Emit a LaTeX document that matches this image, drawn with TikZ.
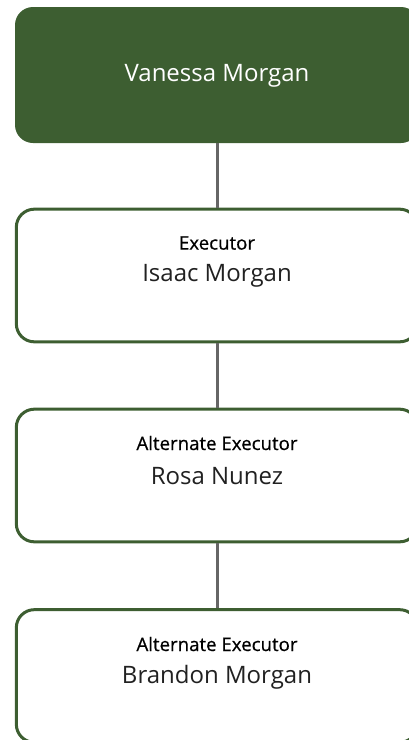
\documentclass[tikz,border=0pt]{standalone}
\usepackage{fontspec}
\setmainfont{Open Sans}
\newfontfamily\rolefont[FakeBold=0.6]{Open Sans}
\usetikzlibrary{positioning, calc}

\definecolor{leafgreen}{HTML}{3D5E31}
\definecolor{stemgray}{HTML}{666666}

\begin{document}
\begin{tikzpicture}[x=0.75pt,y=-0.75pt]
\tikzset{
  boxbase/.style={rectangle,rounded corners=13.5pt,minimum width=301pt,minimum height=99.5pt,inner sep=0pt},
  headbox/.style={boxbase,fill=leafgreen,minimum width=303pt,minimum height=102pt},
  rolebox/.style={boxbase,draw=leafgreen,line width=2.25pt,fill=white},
  headtxt/.style={font=\fontsize{18pt}{21pt}\selectfont,text=white,inner sep=0pt},
  roletxt/.style={font=\rolefont\fontsize{14pt}{17pt}\selectfont,text=black,inner sep=0pt},
  nametxt/.style={font=\fontsize{18pt}{21pt}\selectfont,text=black!87,inner sep=0pt},
  stem/.style={draw=stemgray,line width=2.25pt}
}
\useasboundingbox (0,0) rectangle (408,740);
% Testateur
\node[headbox] at (217,75) (vm){};
\node[headtxt] at (217,76) (vm_txt){Vanessa Morgan};
% Executeurs
\node[rolebox] at (217,275.5) (ex1){};
\node[rolebox] at (217,475.5) (ex2){};
\node[rolebox] at (217,676) (ex3){};
\node[roletxt] at (217,243) (ex1_role){Executor};
\node[nametxt] at (217,276) (ex1_name){Isaac Morgan};
\node[roletxt] at (217,443) (ex2_role){Alternate Executor};
\node[nametxt] at (217,476) (ex2_name){Rosa Nunez};
\node[roletxt] at (217,644) (ex3_role){Alternate Executor};
\node[nametxt] at (217,677) (ex3_name){Brandon Morgan};
% Liens
\draw[stem] (vm.south) -- (ex1.north) (ex1.south) -- (ex2.north) (ex2.south) -- (ex3.north);
\end{tikzpicture}
\end{document}
